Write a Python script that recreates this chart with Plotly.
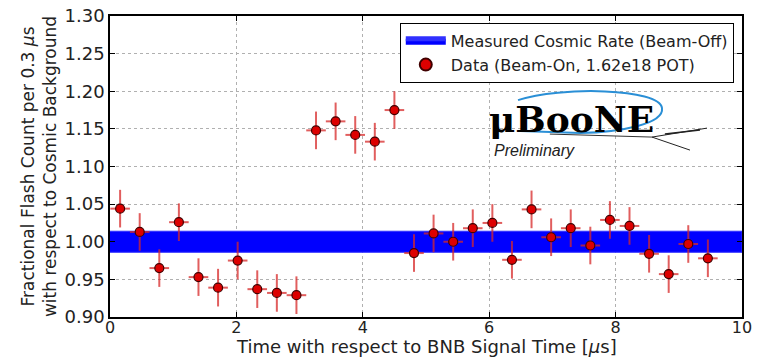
import plotly.graph_objects as go

# ---- data ----
time_us = [0.16, 0.47, 0.78, 1.09, 1.40, 1.71, 2.02, 2.33, 2.64, 2.95,
           3.26, 3.57, 3.88, 4.19, 4.50, 4.81, 5.12, 5.43, 5.74, 6.05,
           6.36, 6.67, 6.98, 7.29, 7.60, 7.91, 8.22, 8.53, 8.84, 9.15, 9.46]
frac_count = [1.044, 1.013, 0.965, 1.026, 0.953, 0.939, 0.975, 0.937, 0.932, 0.929,
              1.148, 1.160, 1.142, 1.133, 1.175, 0.985, 1.011, 1.000, 1.018, 1.025,
              0.976, 1.043, 1.006, 1.018, 0.995, 1.029, 1.021, 0.984, 0.957, 0.997, 0.978]
y_err = [0.025] * len(time_us)
x_err = [0.155] * len(time_us)

band_x = [0, 10]
band_low = [0.986, 0.986]
band_high = [1.014, 1.014]

x_ticks = [0, 2, 4, 6, 8, 10]
y_ticks = [0.90, 0.95, 1.00, 1.05, 1.10, 1.15, 1.20, 1.25, 1.30]

FONT = "DejaVu Sans"

fig = go.Figure()

# cosmic band
fig.add_trace(go.Scatter(
    x=band_x + band_x[::-1], y=band_high + band_low[::-1],
    fill="toself", fillcolor="#0000ff", mode="lines",
    line=dict(color="#3030ff", width=1),
    name="Measured Cosmic Rate (Beam-Off)", hoverinfo="skip"))

# data
fig.add_trace(go.Scatter(
    x=time_us, y=frac_count, mode="markers",
    marker=dict(color="#dd0000", size=9, line=dict(color="#400000", width=1.2)),
    error_y=dict(type="data", array=y_err, color="rgba(215,40,40,0.75)", thickness=2, width=0),
    error_x=dict(type="data", array=x_err, color="rgba(215,40,40,0.75)", thickness=2, width=0),
    name="Data (Beam-On, 1.62e18 POT)"))

# logo (decoration)
fig.add_shape(type="path", xref="x", yref="y",
              path=("M 6.456 1.1882 C 7.12 1.2068, 8.70 1.2041, 8.734 1.1776 "
                    "C 8.77 1.1564, 8.07 1.1458, 7.437 1.1444 L 6.49 1.1471"),
              line=dict(color="#2a8fd6", width=2))
fig.add_shape(type="line", xref="x", yref="y", x0=6.96, y0=1.1431, x1=8.576, y1=1.1391,
              line=dict(color="#333", width=1))
fig.add_shape(type="line", xref="x", yref="y", x0=8.576, y0=1.1391, x1=9.446, y1=1.1510,
              line=dict(color="#222", width=1))
fig.add_shape(type="line", xref="x", yref="y", x0=8.576, y0=1.1391, x1=9.177, y1=1.1218,
              line=dict(color="#222", width=1))
fig.add_shape(type="line", xref="x", yref="y", x0=8.78, y0=1.1431, x1=9.335, y1=1.1484,
              line=dict(color="#222", width=1.5))
fig.add_annotation(x=7.30, y=1.163, text="<b>μBooNE</b>", showarrow=False,
                   font=dict(family="DejaVu Serif", size=36, color="black"))
fig.add_annotation(x=6.72, y=1.121, text="<i>Preliminary</i>", showarrow=False,
                   font=dict(family="Liberation Sans", size=16, color="#222"))

# x-axis title as annotation below tick labels
fig.add_annotation(xref="paper", yref="paper", x=0.5, y=0, yanchor="bottom", yshift=-41,
                   text="Time with respect to BNB Signal Time [<i>μ</i>s]", showarrow=False,
                   font=dict(family=FONT, size=18, color="#222"), borderpad=0)

axis_common = dict(showline=True, linecolor="black", linewidth=1.5, mirror="ticks",
                   ticks="inside", ticklen=5, tickcolor="black", automargin=False,
                   showgrid=True, gridcolor="#b0b0b0", griddash="dot", gridwidth=1,
                   zeroline=False)

fig.update_xaxes(range=[0, 10], tickvals=x_ticks, ticktext=[str(t) for t in x_ticks],
                 tickfont=dict(family=FONT, size=16, color="#222"), ticklabelstandoff=-5,
                 **axis_common)
fig.update_yaxes(range=[0.90, 1.30], tickvals=y_ticks, ticktext=[f"{t:.2f}" for t in y_ticks],
                 tickfont=dict(family=FONT, size=18, color="#222"),
                 title=dict(text="Fractional Flash Count per 0.3 <i>μ</i>s<br>with respect to Cosmic Background",
                            font=dict(family=FONT, size=17, color="#222"), standoff=4),
                 **axis_common)

fig.update_layout(
    width=757, height=359,
    margin=dict(l=110, r=15, t=16, b=42),
    paper_bgcolor="white", plot_bgcolor="white",
    showlegend=True,
    legend=dict(x=0.987, y=0.977, xanchor="right", yanchor="top",
                bgcolor="white", bordercolor="black", borderwidth=1,
                font=dict(family=FONT, size=16, color="#222"),
                tracegroupgap=0, itemsizing="constant", itemwidth=40),
)

fig.write_html("out.html")
